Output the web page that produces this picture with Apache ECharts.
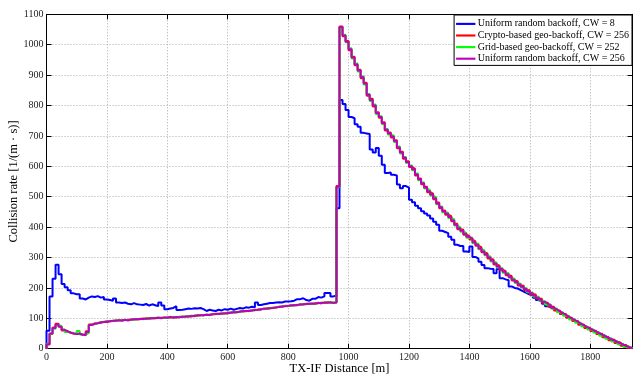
<!DOCTYPE html>
<html><head><meta charset="utf-8">
<script src="https://cdn.jsdelivr.net/npm/echarts@6/dist/echarts.min.js"></script>
<style>html,body{margin:0;padding:0;background:#fff}#c{width:636px;height:377px}</style>
</head><body><div id="c"></div>
<script>
// bin width 10 m, bins start at 0 m
const binWidth = 10;
const xTicks = [0, 200, 400, 600, 800, 1000, 1200, 1400, 1600, 1800];
const yTicks = [0, 100, 200, 300, 400, 500, 600, 700, 800, 900, 1000, 1100];
const seriesNames = ['Uniform random backoff, CW = 8', 'Crypto-based geo-backoff, CW = 256', 'Grid-based geo-backoff, CW = 252', 'Uniform random backoff, CW = 256'];

const blueValues = [
59,172,230,276,245,213,202,192,182,179,
179,165,162,168,172,170,173,168,170,162,
160,158,165,152,150,152,148,146,150,146,
145,144,147,142,146,143,140,152,142,130,
132,134,140,127,128,130,132,131,133,132,
134,130,124,128,126,124,128,126,130,128,
132,128,131,134,132,136,135,138,136,152,
144,146,148,150,150,152,153,152,155,155,
156,158,163,163,166,160,158,164,164,170,
168,172,183,183,172,175,462,818,805,785,
762,758,738,730,710,708,706,655,645,660,
635,605,578,580,572,570,540,528,535,530,
490,482,470,462,452,445,438,428,418,408,
388,384,380,368,358,342,338,338,320,318,
336,302,296,286,275,265,263,262,248,262,
232,228,225,205,200,198,193,188,183,178,
176,168,160,155,148,140,136,130,124,121,
114,109,103,97,92,87,81,76,71,66,
61,56,51,46,41,36,31,27,22,18,
13,9,5,2];

const redValues = [
14,48,70,82,73,60,58,52,50,49,
48,47,44,57,80,83,84,87,88,90,
90,91,93,93,94,94,95,95,96,98,
97,99,98,100,101,100,101,102,102,103,
103,104,103,105,104,105,107,108,107,110,
110,111,111,112,113,115,115,115,117,118,
119,119,121,121,124,123,125,126,128,127,
129,132,131,134,135,135,138,138,141,140,
143,144,143,146,145,148,147,149,148,151,
149,152,151,153,150,153,535,1060,1028,1012,
982,960,932,918,890,875,832,822,797,778,
760,745,718,711,695,686,659,648,625,617,
598,592,570,560,541,533,515,510,492,481,
462,455,441,436,419,411,393,391,375,371,
359,353,339,333,317,313,297,293,277,273,
259,256,242,239,224,222,208,207,193,192,
179,178,165,164,151,151,139,138,126,126,
114,114,102,102,91,91,79,80,68,69,
58,59,48,49,38,39,28,30,19,21,
10,12,3,3];

const greenValues = [
16,49,66,78,74,63,55,54,51,50,
58,47,46,52,79,81,85,85,89,89,
91,91,93,93,93,94,94,95,97,96,
99,97,100,98,101,100,103,101,102,101,
105,103,103,104,106,105,107,106,109,108,
111,109,113,110,114,113,115,115,117,116,
119,121,119,123,122,125,123,127,126,129,
131,130,133,132,135,135,138,138,141,140,
143,142,145,144,147,146,149,147,150,149,
152,150,154,151,152,151,531,1056,1033,1008,
988,955,938,912,896,869,838,815,803,772,
765,739,723,705,701,680,665,642,631,611,
603,587,576,554,547,527,521,504,498,475,
468,449,447,430,425,405,399,385,381,365,
365,347,345,327,323,307,303,287,283,267,
265,250,248,233,230,216,214,201,199,186,
185,172,171,158,157,145,145,132,132,120,
120,108,108,96,97,85,85,74,74,63,
64,53,54,43,44,33,34,24,25,15,
16,6,7,1];

const magentaValues = [
15,50,68,80,72,62,57,53,50,48,
50,46,45,55,78,82,84,86,88,88,
90,92,92,94,92,95,93,96,97,97,
98,98,99,99,100,101,102,100,103,102,
104,102,104,103,105,106,106,107,108,109,
110,110,112,111,113,114,114,116,116,117,
118,120,120,122,123,124,124,126,127,128,
130,131,132,133,134,136,137,139,140,141,
142,143,144,145,146,147,148,148,149,150,
150,151,152,152,151,152,533,1058,1030,1010,
985,958,935,915,893,872,835,818,800,775,
762,742,720,708,698,683,662,645,628,614,
600,590,573,557,544,530,518,507,495,478,
465,452,444,433,422,408,396,388,378,368,
362,350,342,330,320,310,300,290,280,270,
262,253,245,236,227,219,211,204,196,189,
182,175,168,161,154,148,142,135,129,123,
117,111,105,99,94,88,82,77,71,66,
61,56,51,46,41,36,31,27,22,18,
13,9,5,2];

const colors = ['#0000ff', '#ff0000', '#00ff00', '#bf00bf'];

function toSteps(vals) {
  const out = [[0, 0]];
  for (let i = 0; i < vals.length; i++) out.push([i * binWidth, vals[i]]);
  out.push([vals.length * binWidth, vals[vals.length - 1]]);
  return out;
}
const xMax = blueValues.length * binWidth;
const font = 'Liberation Serif';
const lineIcon = 'path://M0,0 L0,0 M0,5 L20,5 L20,7.2 L0,7.2 Z M20,12 L20,12';
const chart = echarts.init(document.getElementById('c'), null, {renderer: 'canvas'});
const allSeries = [blueValues, redValues, greenValues, magentaValues].map((v, i) => ({
  name: seriesNames[i], type: 'line', step: 'end', symbol: 'none', showSymbol: false,
  data: toSteps(v), xAxisIndex: 0, yAxisIndex: 0,
  lineStyle: {color: colors[i], width: 2}, itemStyle: {color: colors[i]}, z: 2 + i
}));
const axisCommon = {
  axisLine: {show: true, onZero: false, lineStyle: {color: '#000', width: 1}},
  axisTick: {show: true, inside: true, length: 5, lineStyle: {color: '#000'}},
};
chart.setOption({
  animation: false,
  backgroundColor: '#fff',
  textStyle: {fontFamily: font},
  grid: {left: 46.5, right: 3.5, top: 14.3, bottom: 28.3, containLabel: false, outerBoundsMode: 'none'},
  legend: {
    data: seriesNames.map(n => ({name: n, icon: lineIcon})), orient: 'vertical', right: 4, top: 15,
    backgroundColor: '#fff', borderColor: '#000', borderWidth: 1, borderRadius: 0,
    padding: [3, 3, 1, 2], itemGap: 0, itemWidth: 20, itemHeight: 11.6,
    textStyle: {fontFamily: font, fontSize: 10, color: '#000', padding: [0, 0, 0, -3]}
  },
  xAxis: [
    Object.assign({type: 'value', min: 0, max: xMax, interval: 200, position: 'bottom',
      name: 'TX-IF Distance [m]', nameLocation: 'middle', nameGap: 14, nameMoveOverlap: false,
      nameTextStyle: {fontFamily: font, fontSize: 12.5, color: '#000'},
      axisLabel: {fontFamily: font, fontSize: 10, color: '#222', margin: 4, showMaxLabel: false,
        formatter: v => xTicks.includes(v) ? String(v) : ''},
      splitLine: {show: true, lineStyle: {type: [1, 2], color: '#aaa', width: 1}}}, axisCommon),
    Object.assign({type: 'value', min: 0, max: xMax, interval: 200, position: 'top',
      axisLabel: {show: false}, splitLine: {show: false}}, axisCommon)
  ],
  yAxis: [
    Object.assign({type: 'value', min: 0, max: 1100, interval: 100, position: 'left',
      name: 'Collision rate [1/(m \u00b7 s)]', nameLocation: 'middle', nameGap: 26, nameMoveOverlap: false,
      nameTextStyle: {fontFamily: font, fontSize: 12.5, color: '#000'},
      axisLabel: {fontFamily: font, fontSize: 10, color: '#222', margin: 3,
        formatter: v => yTicks.includes(v) ? String(v) : ''},
      splitLine: {show: true, lineStyle: {type: [1, 2], color: '#aaa', width: 1}}}, axisCommon),
    Object.assign({type: 'value', min: 0, max: 1100, interval: 100, position: 'right',
      axisLabel: {show: false}, splitLine: {show: false}}, axisCommon)
  ],
  series: allSeries
});
</script></body></html>
